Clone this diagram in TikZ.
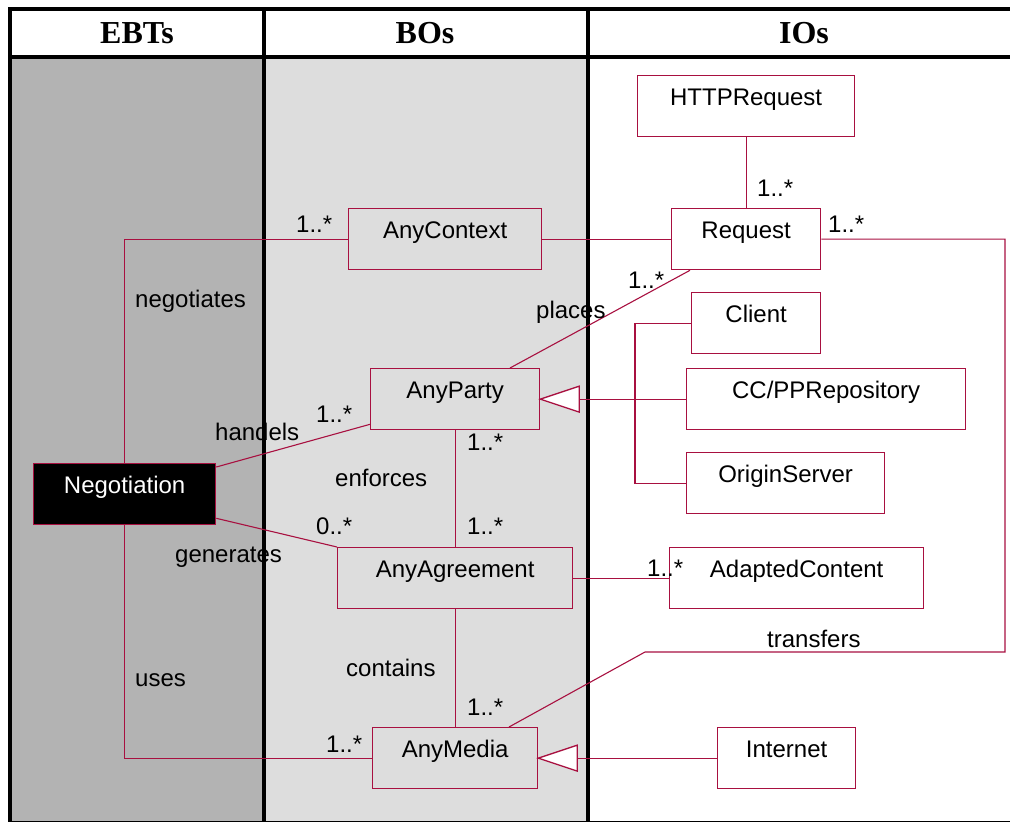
\documentclass[tikz,border=0pt]{standalone}
\usepackage{fontspec}
\setmainfont{Liberation Sans}
\newfontfamily\headfont{Liberation Serif}
\usetikzlibrary{calc}
\definecolor{umlred}{RGB}{168,16,64}
\definecolor{ebtgray}{RGB}{179,179,179}
\definecolor{bogray}{RGB}{221,221,221}

\begin{document}
\begin{tikzpicture}[x=1pt,y=-1pt,
  cls/.style={draw=umlred, line width=1.3pt, inner sep=0pt, anchor=north west,
    text height=29.5pt, text depth=31.5pt, font=\fontsize{24}{28}\selectfont},
  lbl/.style={anchor=base west, inner sep=0pt, font=\fontsize{24}{28}\selectfont},
  head/.style={anchor=base, inner sep=0pt, font=\headfont\bfseries\fontsize{32}{36}\selectfont},
  link/.style={draw=umlred, line width=1.1pt},
  rule/.style={line width=4pt, black},
  gentip/.style={draw=umlred, line width=1.3pt, fill=white, line join=miter}
]
\useasboundingbox (0,0) rectangle (1010,823);

% column backgrounds
\fill[ebtgray] (10,57) rectangle (264,822);
\fill[bogray] (264,57) rectangle (588,822);

% table rules
\draw[rule] (8,9) -- (1010,9);
\draw[rule] (8,57) -- (1010,57);
\draw[rule] (10,7) -- (10,822);
\draw[rule] (264,7) -- (264,822);
\draw[rule] (588,7) -- (588,822);
\draw[line width=1.5pt] (10,821.5) -- (1010,821.5);

% column headings
\node[head] (hEBT) at (137,43) {EBTs};
\node[head] (hBO) at (425,43) {BOs};
\node[head] (hIO) at (804,43) {IOs};

% classes
\node[cls, minimum width=217pt] (http) at (637,75) {HTTPRequest};
\node[cls, minimum width=149pt] (req) at (671,208) {Request};
\node[cls, minimum width=193pt] (ctx) at (348,208) {AnyContext};
\node[cls, minimum width=129pt] (cli) at (691,292) {Client};
\node[cls, minimum width=279pt] (ccpp) at (686,368) {CC/PPRepository};
\node[cls, minimum width=169pt] (party) at (370,368) {AnyParty};
\node[cls, minimum width=198pt] (orig) at (686,452) {OriginServer};
\node[cls, minimum width=182pt, fill=black, text=white] (neg) at (33,463) {Negotiation};
\node[cls, minimum width=235pt] (agr) at (337,547) {AnyAgreement};
\node[cls, minimum width=254pt] (adc) at (669,547) {AdaptedContent};
\node[cls, minimum width=165pt] (media) at (372,727) {AnyMedia};
\node[cls, minimum width=138pt] (inet) at (717,727) {Internet};

% bend points
\coordinate (trB) at (1005,652);
\coordinate (trC) at (645,652);
\coordinate (gbar) at (635,0);

% associations
\draw[link] (http.south) -- (req.north);
\draw[link] (ctx.east) -- (req.west);
\draw[link] (req.east) -- (req.east -| trB) -- (trB) -- (trC) -- ($(media.north west)+(137,0)$);
\draw[link] ($(req.south west)+(19,0)$) -- ($(party.north west)+(140,0)$);
\draw[link] (neg.north) |- (ctx.west);
\draw[link] (neg.south) |- (media.west);
\draw[link] ($(neg.north east)+(0,4)$) -- ($(party.south west)+(0,-6)$);
\draw[link] ($(neg.south east)+(0,-7)$) -- (agr.north west);
\draw[link] (party.south) -- (party.south |- agr.north);
\draw[link] (agr.south) -- (agr.south |- media.north);
\draw[link] (agr.east) -- (adc.west);

% generalisations
\draw[link] ($(party.east)+(39,0)$) -- (ccpp.west);
\draw[link] (cli.west) -- (cli.west -| gbar) -- (orig.west -| gbar) -- (orig.west);
\draw[gentip] (party.east) -- ++(39,-13) -- ++(0,26) -- cycle;
\draw[link] ($(media.east)+(39,0)$) -- (inet.west);
\draw[gentip] (media.east) -- ++(39,-13) -- ++(0,26) -- cycle;

% multiplicities and role names
\node[lbl] (mHttp) at (757,196) {1..*};
\node[lbl] (mReqR) at (828,232) {1..*};
\node[lbl] (mReqP) at (628,288) {1..*};
\node[lbl] (lPlaces) at (536,318) {places};
\node[lbl] (mCtx) at (296,232) {1..*};
\node[lbl] (lNeg) at (135,307) {negotiates};
\node[lbl] (mParty) at (316,422) {1..*};
\node[lbl] (lHand) at (215,440) {handels};
\node[lbl] (mPartyB) at (467,450) {1..*};
\node[lbl] (lEnf) at (335,486) {enforces};
\node[lbl] (mAgrL) at (316,534) {0..*};
\node[lbl] (mAgrT) at (467,534) {1..*};
\node[lbl] (lGen) at (175,562) {generates};
\node[lbl] (mAdc) at (647,576) {1..*};
\node[lbl] (lTrans) at (767,647) {transfers};
\node[lbl] (lCont) at (346,676) {contains};
\node[lbl] (lUses) at (135,686) {uses};
\node[lbl] (mMediaT) at (467,715) {1..*};
\node[lbl] (mMediaL) at (326,752) {1..*};
\end{tikzpicture}
\end{document}
